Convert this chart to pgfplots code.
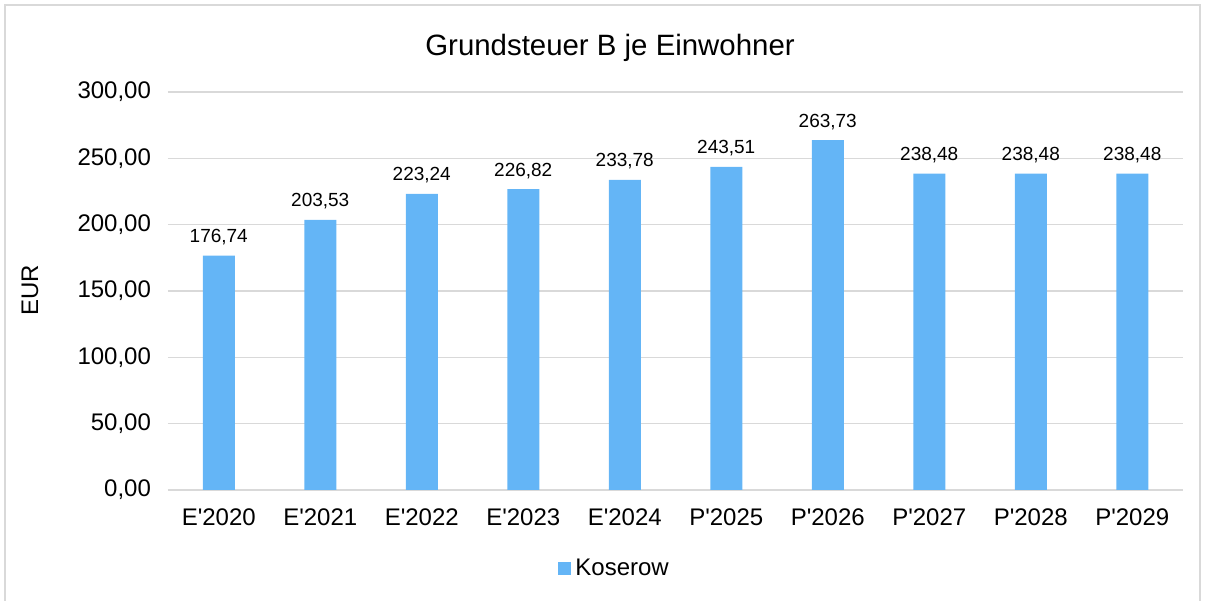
\documentclass[border=0pt]{standalone}
\usepackage{fontspec}
\setmainfont{Liberation Sans}
\usepackage{pgfplots}
\pgfplotsset{compat=1.18}
\definecolor{barblue}{HTML}{64B5F6}
\definecolor{gridgray}{HTML}{D9D9D9}
\begin{document}
\begin{tikzpicture}
\useasboundingbox (0,0) rectangle (602.5pt,300pt);
\draw[gridgray, line width=1pt] (2.5pt,-3pt) rectangle (600pt,297.5pt);
\begin{axis}[
 at={(84pt,55pt)}, anchor=south west,
 scale only axis,
 width=507.5pt, height=199pt,
 xmin=-0.5, xmax=9.5,
 ymin=0, ymax=300,
 ytick={0,50,100,150,200,250,300},
 xtick={0,...,9},
 xticklabels={E\textquotesingle2020,E\textquotesingle2021,E\textquotesingle2022,E\textquotesingle2023,E\textquotesingle2024,
  P\textquotesingle2025,P\textquotesingle2026,P\textquotesingle2027,P\textquotesingle2028,P\textquotesingle2029},
 major tick length=0pt,
 axis line style={draw=none},
 ymajorgrids,
 grid style={gridgray, line width=0.8pt},
 tick label style={font=\fontsize{12}{14}\selectfont},
 yticklabel style={xshift=-5pt},
 xticklabel style={yshift=-6pt},
 /pgf/number format/.cd, fixed, fixed zerofill, precision=2, use comma, assume math mode=true,
 /pgfplots/.cd,
 title={Grundsteuer B je Einwohner},
 title style={at={(axis description cs:0.4355,1.118)}, anchor=center, yshift=-7.5pt, font=\fontsize{14.7}{17}\selectfont},
 ylabel={EUR},
 ylabel style={at={(axis description cs:-0.136,0.5025)}, anchor=center, rotate=0, font=\fontsize{12}{14}\selectfont},
 legend style={at={(axis description cs:0.441,-0.198)}, anchor=center, draw=none, fill=none, font=\fontsize{12}{14}\selectfont},
 legend image code/.code={\fill[#1] (0pt,-3.25pt) rectangle (6.5pt,3.25pt);},
 nodes near coords,
 every node near coord/.append style={anchor=base, yshift=6.5pt, font=\fontsize{9.5}{11}\selectfont, black},
]
\addplot[ybar, bar width=16pt, fill=barblue, draw=none] coordinates {
 (0,176.74) (1,203.53) (2,223.24) (3,226.82) (4,233.78)
 (5,243.51) (6,263.73) (7,238.48) (8,238.48) (9,238.48)
};
\addlegendentry{Koserow}
\end{axis}
\end{tikzpicture}
\end{document}
